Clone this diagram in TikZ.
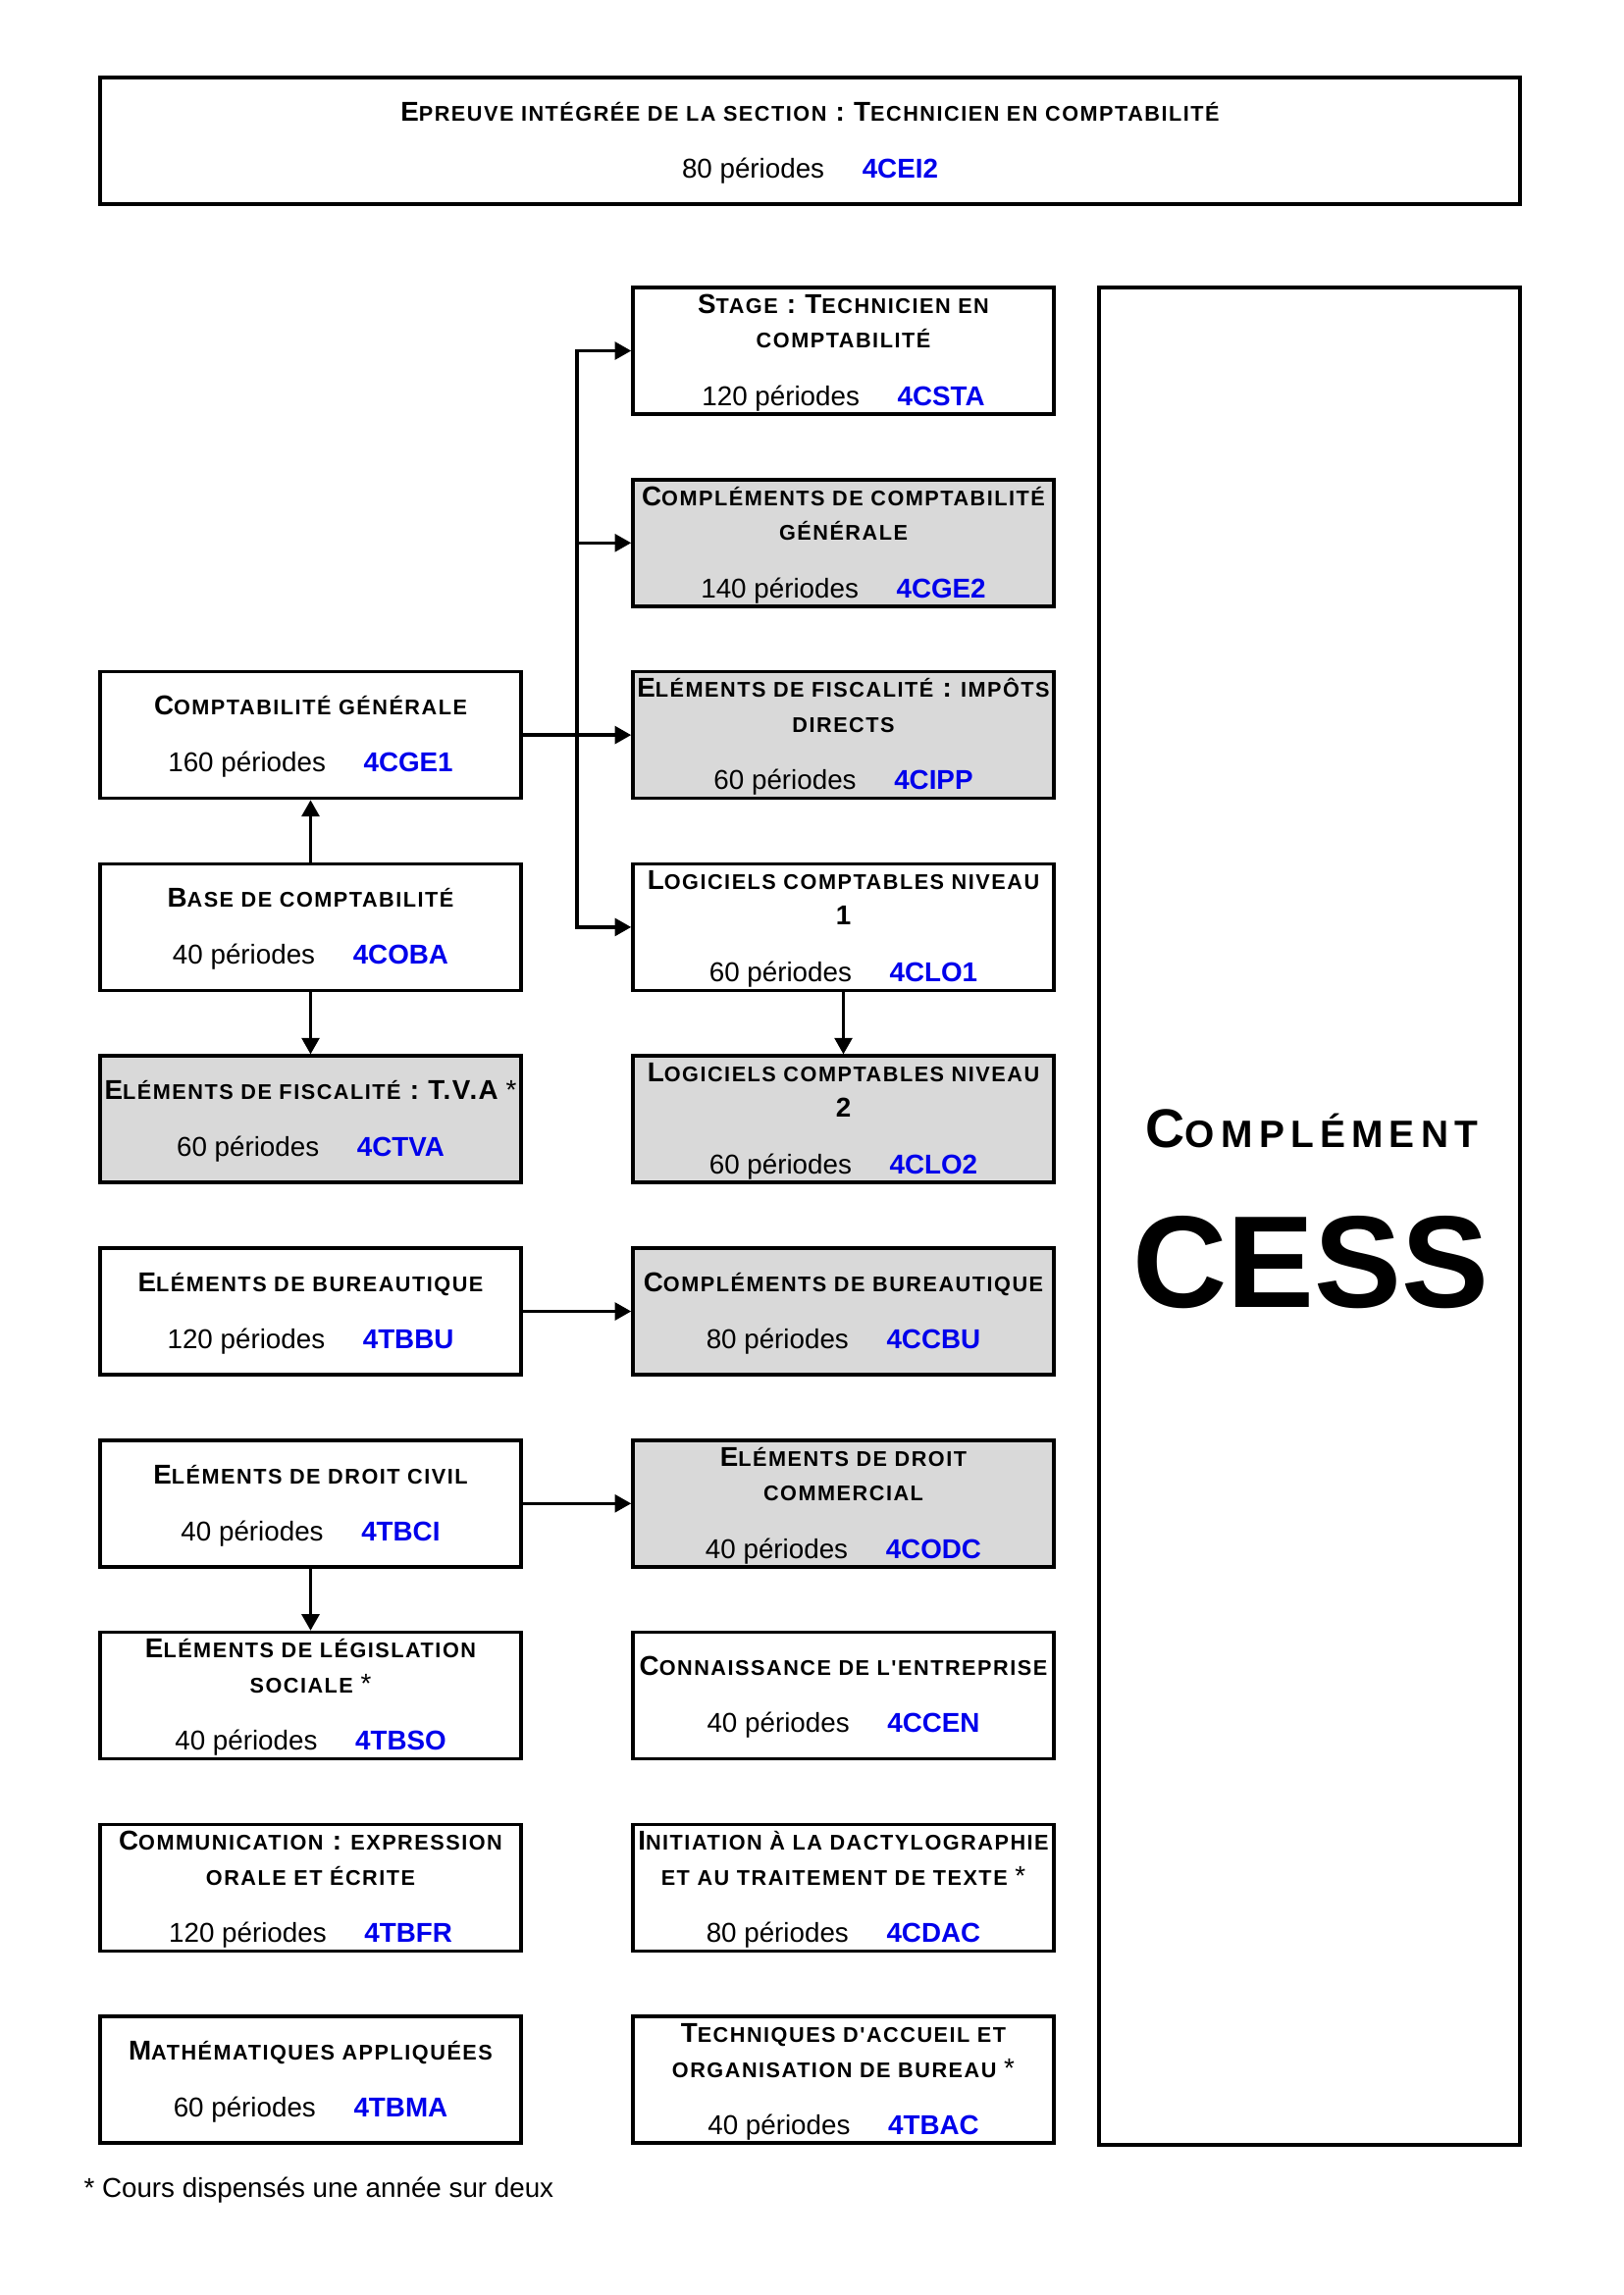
\documentclass[tikz,border=0pt]{standalone}
\usepackage{fontspec}
\setmainfont{Liberation Sans}
\newfontfamily\tfont[LetterSpace=7]{Liberation Sans}
\newfontfamily\cfont[LetterSpace=16]{Liberation Sans}
\usetikzlibrary{arrows.meta}
\definecolor{boxgray}{RGB}{217,217,217}
\definecolor{codeblue}{RGB}{0,0,235}
\newcommand\Cc[1]{{\fontsize{10pt}{12pt}\selectfont\addfontfeature{LetterSpace=5.5}#1}}
\newcommand\Sc[1]{{\fontsize{7.8pt}{9pt}\selectfont #1}}
\newcommand\Ast{{\normalfont\fontsize{10pt}{12pt}\selectfont\ *}}
\tikzset{
  box/.style={draw=black, line width=1.3pt, minimum width=154.4pt, minimum height=46.4pt, inner sep=0pt},
  ttl/.style={anchor=base, inner sep=0pt, font=\tfont\bfseries},
  per/.style={anchor=base, inner sep=0pt, font=\fontsize{10pt}{12pt}\selectfont},
  conn/.style={line width=1.25pt, line cap=rect},
  arr/.style={line width=1.25pt, -{Triangle[length=6pt, width=6.4pt]}},
}
\newcommand\courseA[7]{%
  \node[box, fill=#4] (#1) at (#2,#3) {};
  \node[ttl] (#1-t) at (#2,#3-20.3) {#5};
  \node[per] (#1-p) at (#2,#3+37.8) {#6 périodes\hspace{13.9pt}\textcolor{codeblue}{\bfseries #7}};
}
\newcommand\courseB[8]{%
  \node[box, fill=#4] (#1) at (#2,#3) {};
  \node[ttl] (#1-t) at (#2,#3-38.2) {#5};
  \node[ttl] (#1-u) at (#2,#3-2.7) {#6};
  \node[per] (#1-p) at (#2,#3+55.7) {#7 périodes\hspace{13.9pt}\textcolor{codeblue}{\bfseries #8}};
}
\begin{document}
\begin{tikzpicture}[x=0.36pt, y=-0.36pt]
\useasboundingbox (0,0) rectangle (1654,2339);
\fill[white] (0,0) rectangle (1654,2339);

% top box
\node[box, minimum width=521.1pt] (top) at (825.5,143.5) {};
\node[ttl] (top-t) at (825.5,123.2) {\Cc{E}\Sc{PREUVE INTÉGRÉE DE LA SECTION}\Cc{\ : T}\Sc{ECHNICIEN EN COMPTABILITÉ}};
\node[per] (top-p) at (825.5,181.3) {80 périodes\hspace{13.9pt}\textcolor{codeblue}{\bfseries 4CEI2}};

% right column
\courseB{sta}{859.5}{357.5}{white}{\Cc{S}\Sc{TAGE}\Cc{\ : T}\Sc{ECHNICIEN EN}}{\Sc{COMPTABILITÉ}}{120}{4CSTA}
\courseB{cge2}{859.5}{553.3}{boxgray}{\Cc{C}\Sc{OMPLÉMENTS DE COMPTABILITÉ}}{\Sc{GÉNÉRALE}}{140}{4CGE2}
\courseB{cipp}{859.5}{749.1}{boxgray}{\Cc{E}\Sc{LÉMENTS DE FISCALITÉ}\Cc{\ :\ }\Sc{IMPÔTS}}{\Sc{DIRECTS}}{60}{4CIPP}
\courseB{clo1}{859.5}{944.9}{white}{\Cc{L}\Sc{OGICIELS COMPTABLES NIVEAU}}{\Cc{1}}{60}{4CLO1}
\courseB{clo2}{859.5}{1140.7}{boxgray}{\Cc{L}\Sc{OGICIELS COMPTABLES NIVEAU}}{\Cc{2}}{60}{4CLO2}
\courseA{ccbu}{859.5}{1336.5}{boxgray}{\Cc{C}\Sc{OMPLÉMENTS DE BUREAUTIQUE}}{80}{4CCBU}
\courseB{codc}{859.5}{1532.3}{boxgray}{\Cc{E}\Sc{LÉMENTS DE DROIT}}{\Sc{COMMERCIAL}}{40}{4CODC}
\courseA{ccen}{859.5}{1728.1}{white}{\Cc{C}\Sc{ONNAISSANCE DE L'ENTREPRISE}}{40}{4CCEN}
\courseB{cdac}{859.5}{1923.9}{white}{\Cc{I}\Sc{NITIATION À LA DACTYLOGRAPHIE}}{\Sc{ET AU TRAITEMENT DE TEXTE}\Ast}{80}{4CDAC}
\courseB{bac}{859.5}{2119.7}{white}{\Cc{T}\Sc{ECHNIQUES D'ACCUEIL ET}}{\Sc{ORGANISATION DE BUREAU}\Ast}{40}{4TBAC}

% left column
\courseA{cge1}{316.5}{749.1}{white}{\Cc{C}\Sc{OMPTABILITÉ GÉNÉRALE}}{160}{4CGE1}
\courseA{coba}{316.5}{944.9}{white}{\Cc{B}\Sc{ASE DE COMPTABILITÉ}}{40}{4COBA}
\courseA{ctva}{316.5}{1140.7}{boxgray}{\Cc{E}\Sc{LÉMENTS DE FISCALITÉ}\Cc{\ : T.V.A}\Ast}{60}{4CTVA}
\courseA{bbu}{316.5}{1336.5}{white}{\Cc{E}\Sc{LÉMENTS DE BUREAUTIQUE}}{120}{4TBBU}
\courseA{bci}{316.5}{1532.3}{white}{\Cc{E}\Sc{LÉMENTS DE DROIT CIVIL}}{40}{4TBCI}
\courseB{bso}{316.5}{1728.1}{white}{\Cc{E}\Sc{LÉMENTS DE LÉGISLATION}}{\Sc{SOCIALE}\Ast}{40}{4TBSO}
\courseB{bfr}{316.5}{1923.9}{white}{\Cc{C}\Sc{OMMUNICATION}\Cc{\ :\ }\Sc{EXPRESSION}}{\Sc{ORALE ET ÉCRITE}}{120}{4TBFR}
\courseA{bma}{316.5}{2119.7}{white}{\Cc{M}\Sc{ATHÉMATIQUES APPLIQUÉES}}{60}{4TBMA}

% CESS box
\node[box, minimum height=681.6pt] (cess) at (1334.5,1239.5) {};
\node[anchor=base, inner sep=0pt, font=\cfont\bfseries] (compl) at (1337,1169) {{\fontsize{20pt}{24pt}\selectfont C}{\fontsize{14pt}{17pt}\selectfont OMPLÉMENT}};
\node[anchor=base, inner sep=0pt, font=\bfseries\fontsize{48pt}{56pt}\selectfont] (cesst) at (1336,1332) {CESS};

% footnote
\node[anchor=base west, inner sep=0pt, font=\fontsize{10pt}{12pt}\selectfont] (note) at (85,2239) {* Cours dispensés une année sur deux};

% connectors
\coordinate (tx) at (588,0);
\draw[conn] (cge1.east) -- (cge1.east -| tx);
\draw[conn] (sta.west -| tx) -- (clo1.west -| tx);
\foreach \n in {sta,cge2,cipp,clo1} \draw[arr] (\n.west -| tx) -- (\n.west);
\draw[arr] (coba) -- (cge1);
\draw[arr] (coba) -- (ctva);
\draw[arr] (clo1) -- (clo2);
\draw[arr] (bbu) -- (ccbu);
\draw[arr] (bci) -- (codc);
\draw[arr] (bci) -- (bso);
\end{tikzpicture}
\end{document}
